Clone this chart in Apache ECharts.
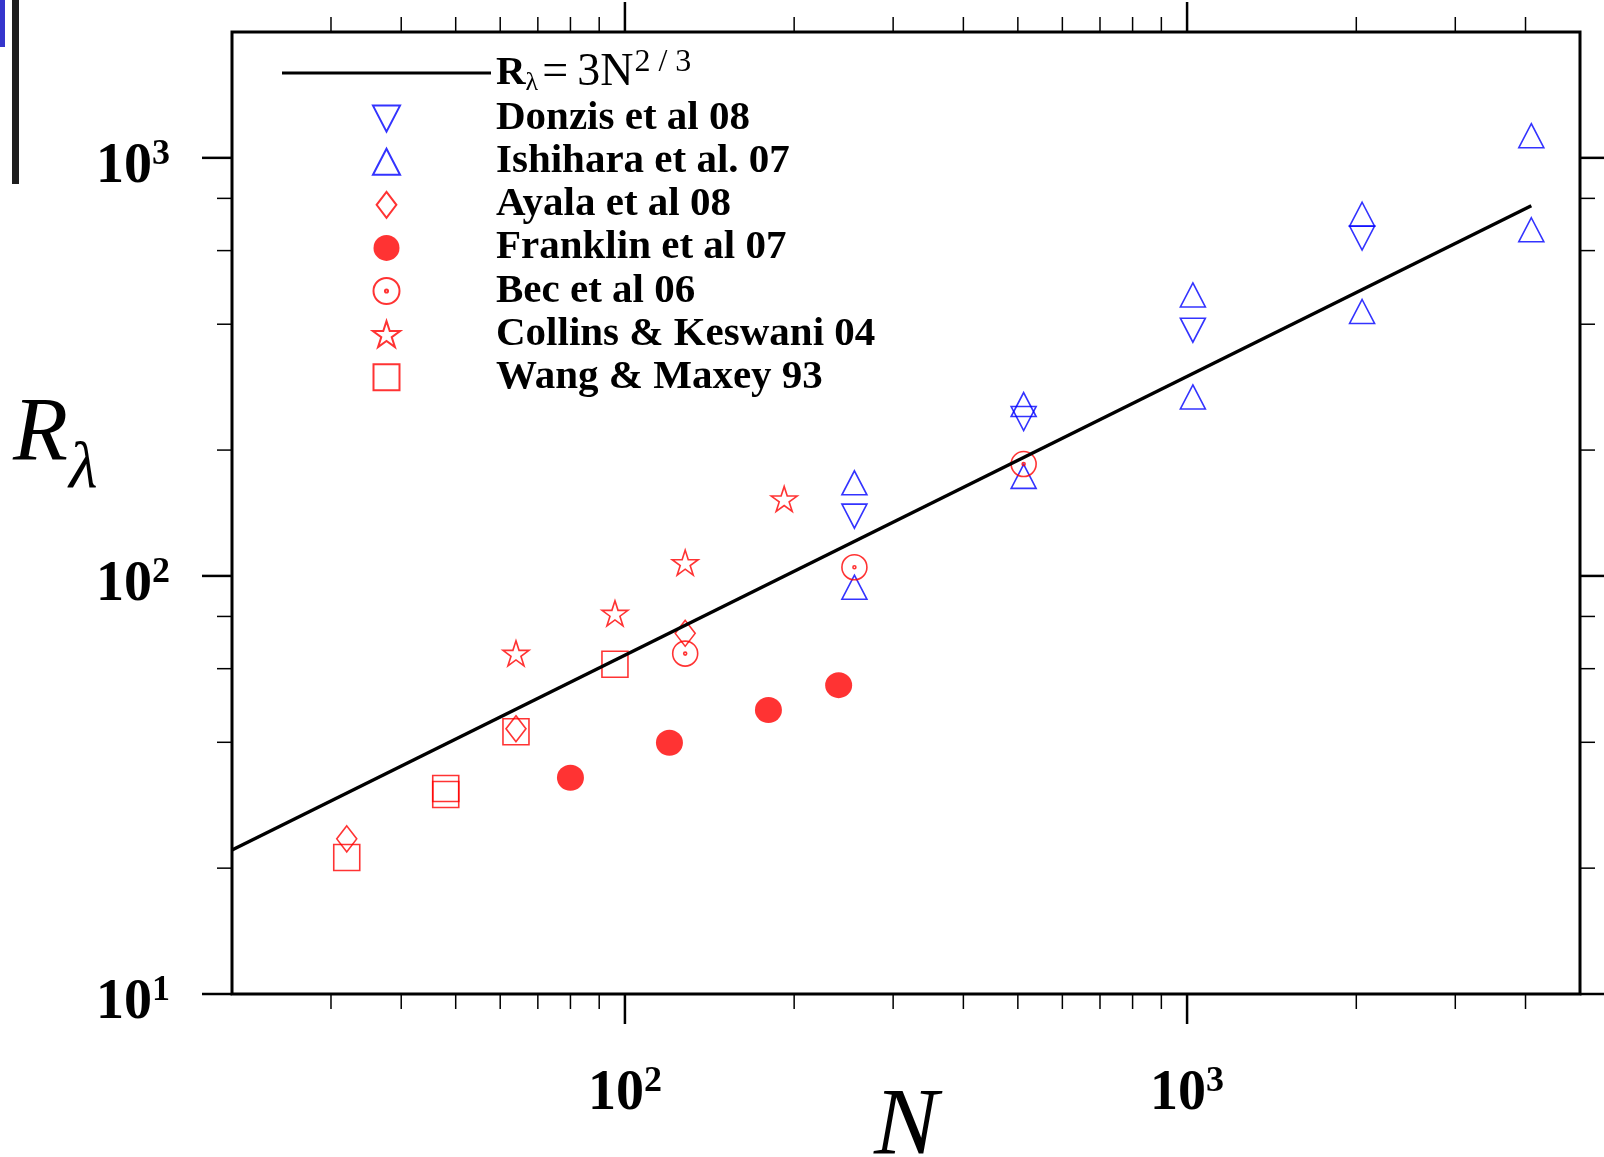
<!DOCTYPE html>
<html><head><meta charset="utf-8">
<script src="https://cdn.jsdelivr.net/npm/echarts@6/dist/echarts.min.js"></script>
<style>html,body{margin:0;padding:0;background:#fff}#c{width:1604px;height:1157px}</style>
</head><body><div id="c"></div>
<script>
const SERIF = 'Liberation Serif';
// axis ranges and tick values
const xRange = [20, 5000];
const yRange = [10, 2000];
const xMajorTicks = [100, 1000];
const xMinorTicks = [30, 40, 50, 60, 70, 80, 90, 200, 300, 400, 500, 600, 700, 800, 900, 2000, 3000, 4000];
const yMajorTicks = [10, 100, 1000];
const yMinorTicks = [20, 40, 60, 80, 200, 400, 600, 800];

// series data
const fitName = 'R_lambda = 3N^(2/3)';
const fitN = [20, 4096];
const fitR = [22.1, 768];
const donzisN = [256, 512, 1024, 2048];
const donzisR = [139, 238, 387, 643];
const ishiharaN = [256, 256, 512, 512, 1024, 1024, 2048, 2048, 4096, 4096];
const ishiharaR = [167, 94, 257, 173, 470, 268, 733, 429, 1130, 673];
const ayalaN = [32, 64, 128];
const ayalaR = [23.5, 43.1, 72.9];
const franklinN = [80, 120, 180, 240];
const franklinR = [32.9, 39.9, 47.8, 54.8];
const becN = [128, 256, 512];
const becR = [65.2, 104.9, 185.2];
const collinsN = [64, 96, 128, 192];
const collinsR = [65.3, 81.4, 107.6, 152.8];
const wangN = [32, 48, 48, 64, 96];
const wangR = [21.2, 31.0, 30.0, 42.4, 61.5];

function zip(a, b) { return a.map((v, i) => [v, b[i]]); }

const tickData = [];
xMajorTicks.forEach(v => { tickData.push([v, yRange[0], 0, 1]); tickData.push([v, yRange[1], 1, 1]); });
xMinorTicks.forEach(v => { tickData.push([v, yRange[0], 0, 0]); tickData.push([v, yRange[1], 1, 0]); });
yMajorTicks.forEach(v => { tickData.push([xRange[0], v, 2, 1]); tickData.push([xRange[1], v, 3, 1]); });
yMinorTicks.forEach(v => { tickData.push([xRange[0], v, 2, 0]); tickData.push([xRange[1], v, 3, 0]); });

function renderTick(params, api) {
  const p = api.coord([api.value(0), api.value(1)]);
  const side = api.value(2), major = api.value(3);
  const len = major ? 30 : 15;
  const d = [[0, 1], [0, -1], [-1, 0], [1, 0]][side];
  return { type: 'line', shape: { x1: p[0], y1: p[1], x2: p[0] + d[0] * len, y2: p[1] + d[1] * len },
    style: { stroke: '#000', lineWidth: major ? 2.5 : 1.5 } };
}

function powLabel(v) {
  const e = Math.log10(v);
  const r = Math.round(e);
  if (Math.abs(e - r) < 1e-6) return '{b|10}{s|' + r + '}';
  return '';
}
const labelRich = {
  b: { fontFamily: SERIF, fontWeight: 'bold', fontSize: 56, color: '#000' },
  s: { fontFamily: SERIF, fontWeight: 'bold', fontSize: 36, color: '#000', padding: [0, 0, 26, 0] }
};

const RED = '#ff0000', BLUE = '#0000ff';
const hollow = c => ({ color: 'transparent', borderColor: c, borderWidth: 1.6 });
const starPath = 'path://M50,0 L61.23,34.55 L97.55,34.55 L68.17,55.9 L79.39,90.45 L50,69.1 L20.61,90.45 L31.83,55.9 L2.45,34.55 L38.77,34.55 Z';
const dotCirclePath = 'path://M100,50 A50,50 0 1,1 0,50 A50,50 0 1,1 100,50 Z M56,50 A6,6 0 1,1 44,50 A6,6 0 1,1 56,50 Z';
const downTriPath = 'path://M0,0 L100,0 L50,96 Z';
const upTriPath = 'path://M50,0 L100,96 L0,96 Z';
const diamondPath = 'path://M38,0 L76,50 L38,100 L0,50 Z';
const squarePath = 'path://M0,0 L100,0 L100,100 L0,100 Z';
const lineIconPath = 'path://M0,0 L209,0 L209,3 L0,3 Z';

const names = ['Donzis et al 08', 'Ishihara et al. 07', 'Ayala et al 08', 'Franklin et al 07', 'Bec et al 06', 'Collins & Keswani 04', 'Wang & Maxey 93'];

const chart = echarts.init(document.getElementById('c'), null, { renderer: 'canvas' });
chart.setOption({
  animation: false,
  backgroundColor: '#fff',
  grid: { left: 232, right: 24, top: 32, bottom: 163, containLabel: false, outerBoundsMode: 'none',
    show: true, borderWidth: 3, borderColor: '#000', backgroundColor: 'transparent' },
  xAxis: {
    type: 'log', logBase: 10, min: xRange[0], max: xRange[1],
    axisLine: { show: false }, axisTick: { show: false }, splitLine: { show: false }, minorTick: { show: false },
    axisLabel: { margin: 70, formatter: powLabel, rich: labelRich, showMinLabel: false, showMaxLabel: false },
    name: 'N', nameLocation: 'middle', nameGap: 87, nameMoveOverlap: false,
    nameTextStyle: { fontFamily: SERIF, fontStyle: 'italic', fontSize: 96, color: '#000' }
  },
  yAxis: {
    type: 'log', logBase: 10, min: yRange[0], max: yRange[1],
    axisLine: { show: false }, axisTick: { show: false }, splitLine: { show: false }, minorTick: { show: false },
    axisLabel: { margin: 62, formatter: powLabel, rich: labelRich, showMaxLabel: false, padding: [20, 0, 0, 0] }
  },
  legend: {
    orient: 'vertical', left: 282, top: 47, padding: 0, itemWidth: 209, itemHeight: 26, itemGap: 2.1,
    selectedMode: false,
    data: [{ name: fitName, icon: lineIconPath }].concat(names),
    formatter: n => n === fitName ? '{rb|R}{rl|λ}{eq|=}{rn|3N}{rs|2 / 3}' : n,
    textStyle: {
      fontFamily: SERIF, fontWeight: 'bold', fontSize: 41, color: '#000',
      rich: {
        rb: { fontFamily: SERIF, fontWeight: 'bold', fontSize: 41, color: '#000' },
        rl: { fontFamily: SERIF, fontWeight: 'normal', fontSize: 26, color: '#000', padding: [20, 4, 0, 0] },
        eq: { fontFamily: SERIF, fontWeight: 'normal', fontSize: 46, lineHeight: 41, color: '#000', padding: [0, 9, 0, 0] },
        rn: { fontFamily: SERIF, fontWeight: 'normal', fontSize: 46, lineHeight: 41, color: '#000' },
        rs: { fontFamily: SERIF, fontWeight: 'normal', fontSize: 32, color: '#000', padding: [0, 0, 20, 1] }
      }
    }
  },
  graphic: [
    { type: 'rect', shape: { x: 0, y: 0, width: 5, height: 47 }, style: { fill: '#3535cc' } },
    { type: 'rect', shape: { x: 12, y: 0, width: 7, height: 184 }, style: { fill: '#1e1e1e' } },
    { type: 'text', x: 13, y: 436, style: { text: 'R', font: 'italic 90px "Liberation Serif"', fill: '#000', verticalAlign: 'middle' } },
    { type: 'text', x: 69, y: 470, style: { text: 'λ', font: 'italic 66px "Liberation Serif"', fill: '#000', verticalAlign: 'middle' } }
  ],
  series: [
    { type: 'line', name: fitName, data: zip(fitN, fitR), symbol: 'none', lineStyle: { color: '#000', width: 3.5 }, itemStyle: { color: '#000' } },
    { type: 'scatter', name: 'Donzis et al 08', data: zip(donzisN, donzisR), symbol: downTriPath, symbolSize: [25, 24], itemStyle: hollow(BLUE) },
    { type: 'scatter', name: 'Ishihara et al. 07', data: zip(ishiharaN, ishiharaR), symbol: upTriPath, symbolSize: [25, 24], itemStyle: hollow(BLUE) },
    { type: 'scatter', name: 'Ayala et al 08', data: zip(ayalaN, ayalaR), symbol: diamondPath, symbolSize: [20, 26], itemStyle: hollow(RED) },
    { type: 'scatter', name: 'Franklin et al 07', data: zip(franklinN, franklinR), symbol: 'circle', symbolSize: [27, 26], itemStyle: { color: RED } },
    { type: 'scatter', name: 'Bec et al 06', data: zip(becN, becR), symbol: dotCirclePath, symbolSize: 25, itemStyle: hollow(RED) },
    { type: 'scatter', name: 'Collins & Keswani 04', data: zip(collinsN, collinsR), symbol: starPath, symbolSize: [26, 25], itemStyle: hollow(RED) },
    { type: 'scatter', name: 'Wang & Maxey 93', data: zip(wangN, wangR), symbol: squarePath, symbolSize: 26, itemStyle: hollow(RED) },
    { type: 'custom', name: 'ticks', data: tickData, renderItem: renderTick, encode: { x: 0, y: 1 }, silent: true, z: 5 }
  ]
});
</script></body></html>
